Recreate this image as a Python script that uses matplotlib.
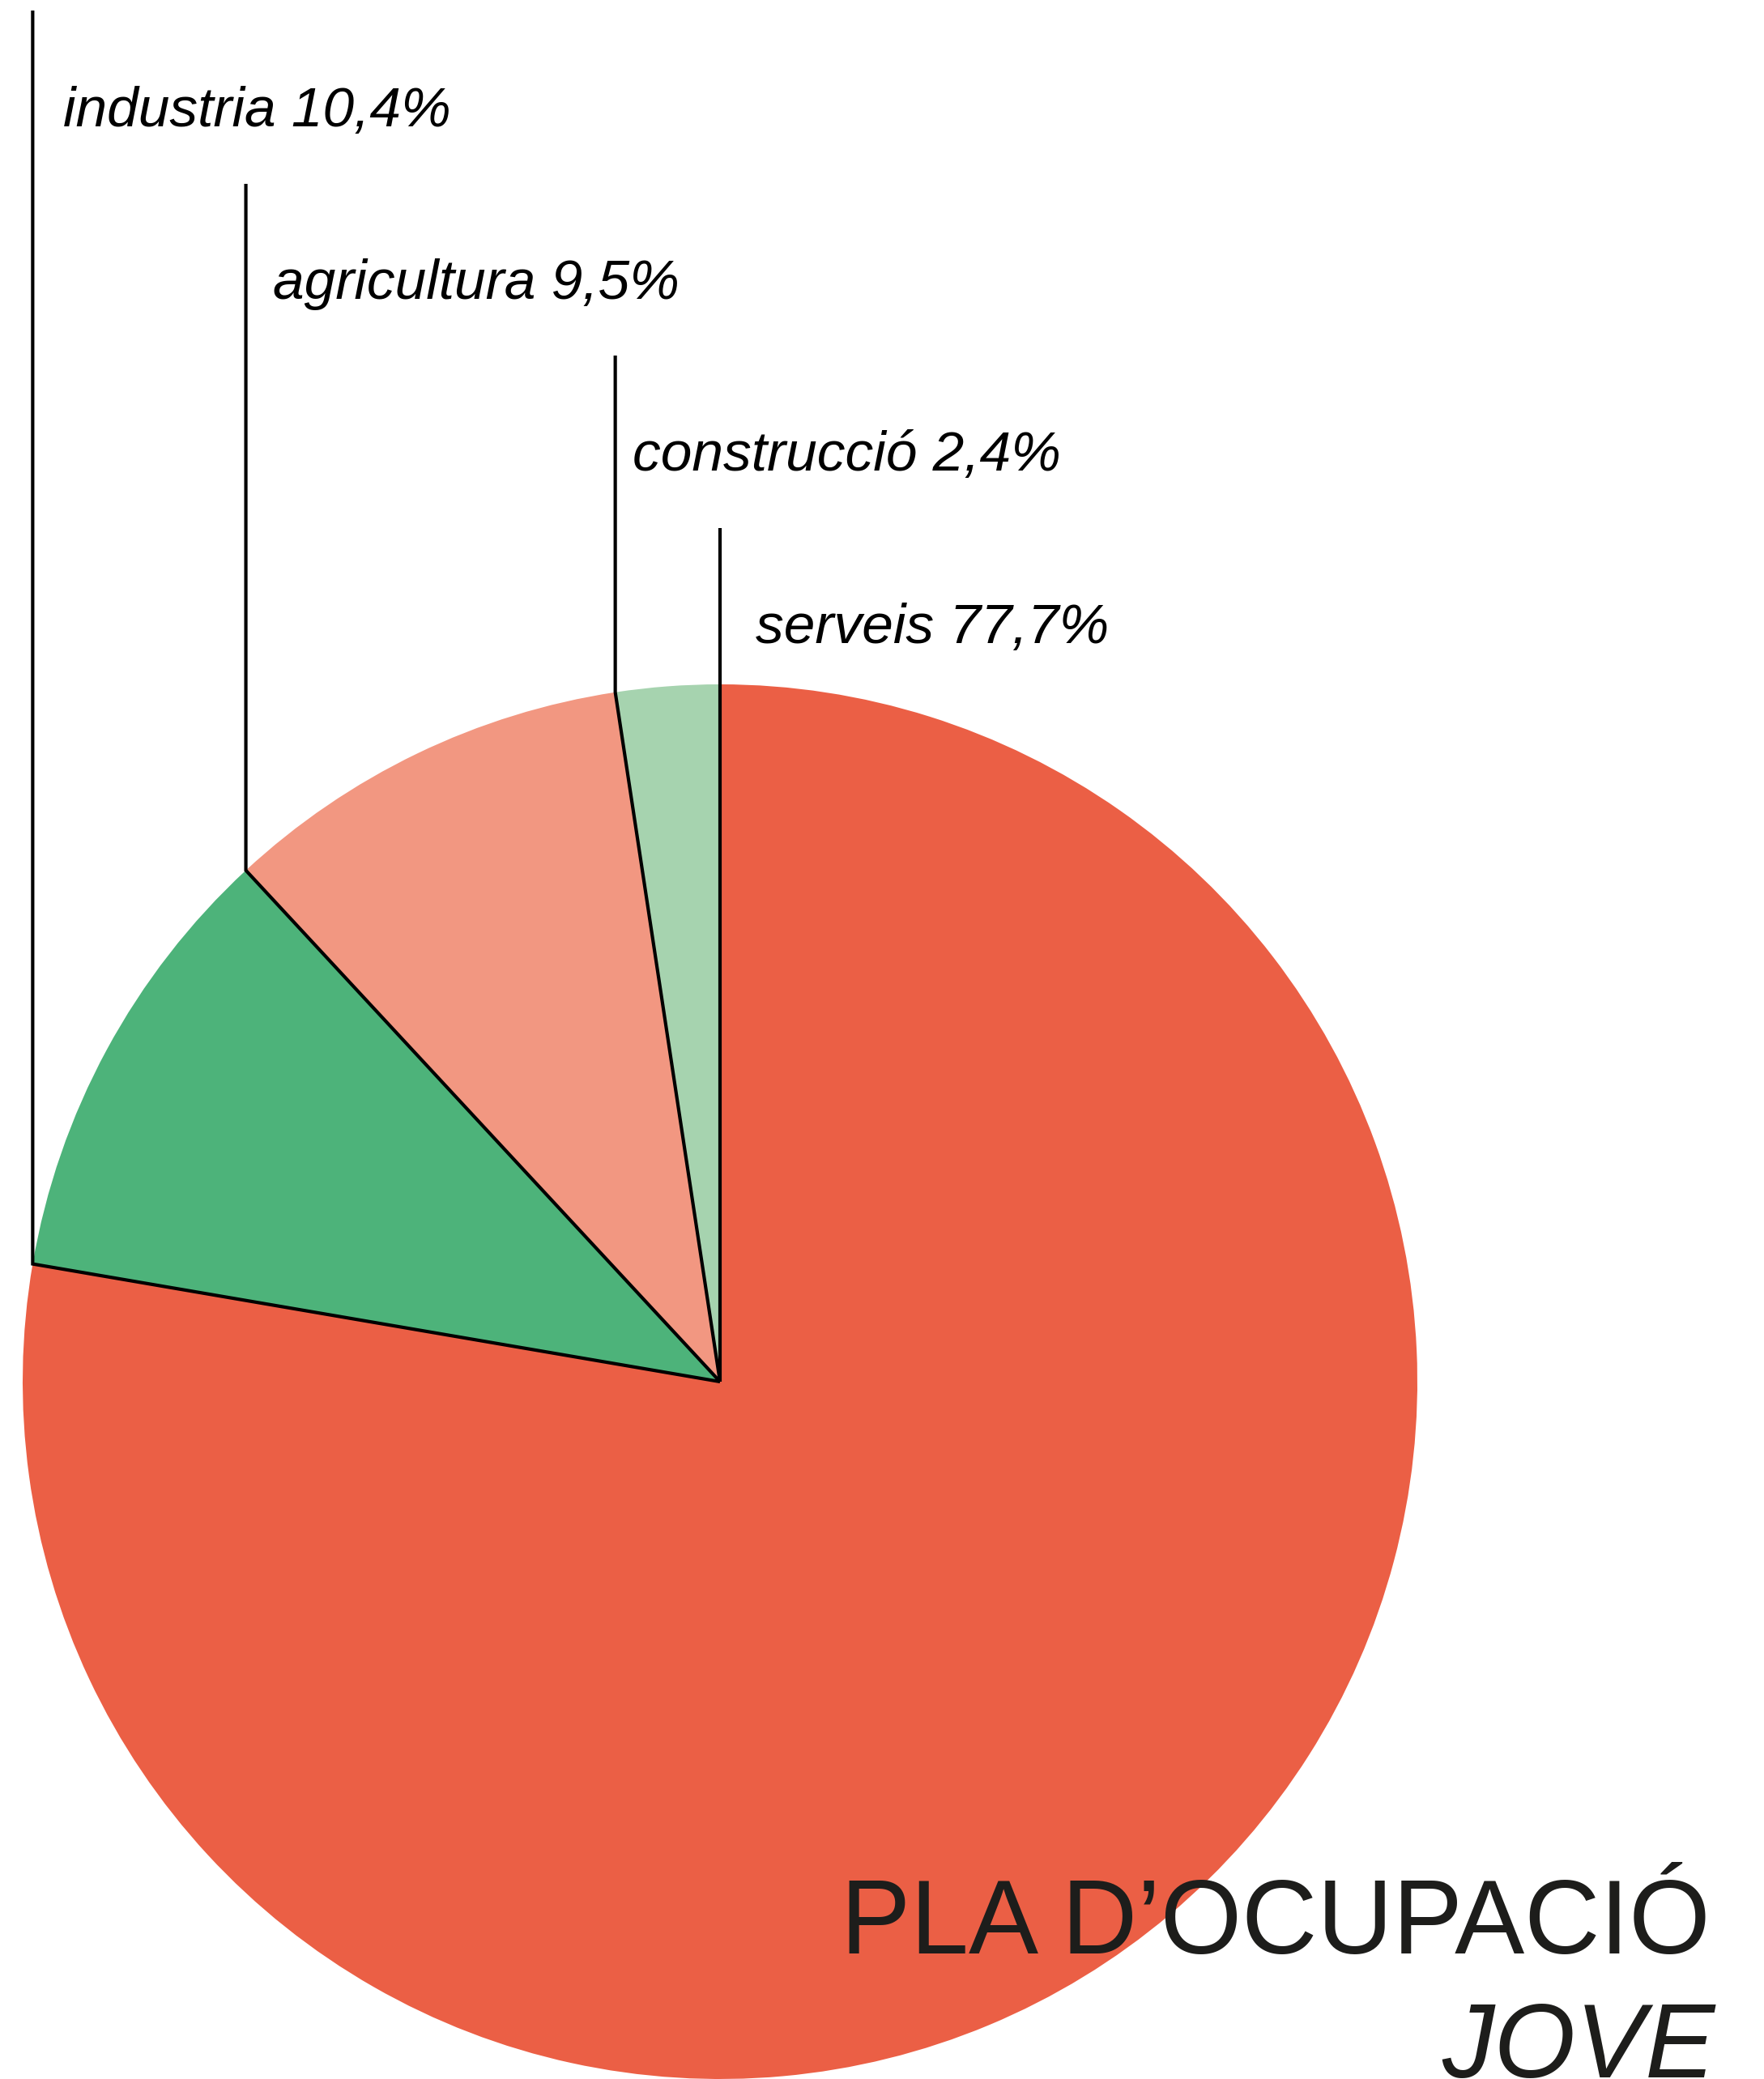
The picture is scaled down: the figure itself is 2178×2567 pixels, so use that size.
import matplotlib
matplotlib.use("Agg")
import matplotlib.pyplot as plt
import numpy as np

# ---- data ----
categories = ["serveis", "industria", "agricultura", "construcció"]
shares = [77.7, 10.4, 9.5, 2.4]
share_labels = ["77,7%", "10,4%", "9,5%", "2,4%"]
colors = ["#EB5F45", "#4DB37A", "#F29781", "#A6D3AF"]
title_line1 = "PLA D\u2019OCUPACIÓ"
title_line2 = "JOVE"

W, H = 2178, 2567
fig = plt.figure(figsize=(W / 100, H / 100), dpi=100)
ax = fig.add_axes([0, 0, 1, 1])

cx, cy, r = 889, 861, 861
ax.pie(shares, colors=colors, startangle=90, counterclock=False,
       center=(cx, cy), radius=r, frame=True,
       wedgeprops=dict(linewidth=0, antialiased=True))

# leader lines: from each wedge's starting boundary (clockwise) up to label
tops = [1915, 2554, 2340, 2128]          # top of each leader line (layout)
label_pos = [(933, 1773), (78, 2411), (337, 2198), (781, 1986)]  # text baselines

cum = np.concatenate([[0], np.cumsum(shares)[:-1]])
for i, (cat, lab) in enumerate(zip(categories, share_labels)):
    ang = np.deg2rad(90 - cum[i] / sum(shares) * 360)
    bx, by = cx + r * np.cos(ang), cy + r * np.sin(ang)
    if i == 0:
        xs, ys = [cx, cx], [cy, tops[i]]
    else:
        xs, ys = [cx, bx, bx], [cy, by, tops[i]]
    ax.plot(xs, ys, color="black", lw=3.0, solid_joinstyle="miter",
            solid_capstyle="butt", zorder=5)
    tx, ty = label_pos[i]
    ax.text(tx, ty, f"{cat} {lab}", fontsize=50, style="italic",
            family=["Liberation Sans", "DejaVu Sans"], color="black",
            ha="left", va="baseline", zorder=6)

ax.text(2112, 155, title_line1, fontsize=93, family=["Liberation Sans", "DejaVu Sans"],
        color="#1D1D1B", ha="right", va="baseline", zorder=6)
ax.text(2118, 2, title_line2, fontsize=93, style="italic",
        family=["Liberation Sans", "DejaVu Sans"],
        color="#1D1D1B", ha="right", va="baseline", zorder=6)

ax.set_xlim(0, W)
ax.set_ylim(0, H)
ax.set_aspect("auto")
ax.axis("off")
fig.savefig("out.png", dpi=100, facecolor="white")
